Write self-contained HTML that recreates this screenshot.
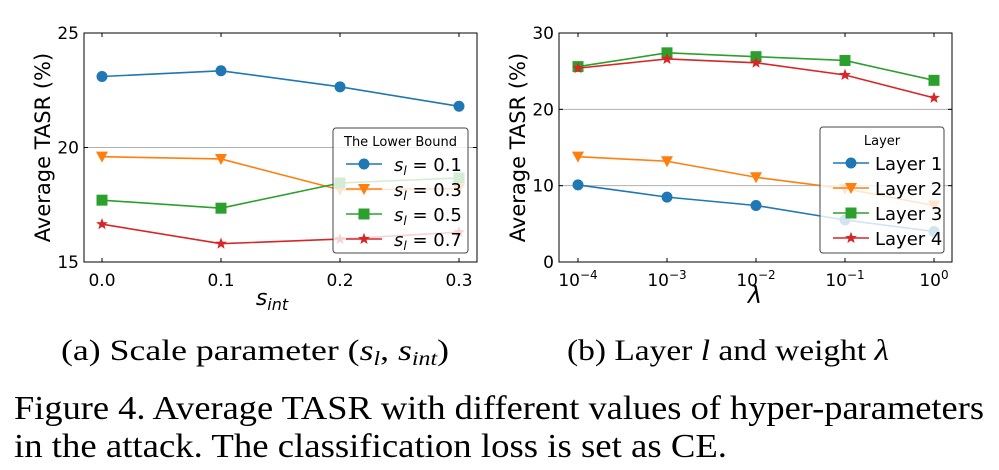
<!DOCTYPE html>
<html><head><meta charset="utf-8"><style>
body{margin:0;background:#fff;width:999px;height:470px;overflow:hidden}
svg{display:block}
.tk{font-family:"DejaVu Sans","Liberation Sans",sans-serif;fill:#000}
.cap{font-family:"Liberation Serif",serif;fill:#000}
</style></head><body>
<svg id="fig" width="999" height="470">
<text class="cap" x="61" y="360" style="font-size:30px" textLength="388" lengthAdjust="spacingAndGlyphs">(a) Scale parameter (<tspan font-style="italic">s<tspan style="font-size:20px" dy="5">l</tspan></tspan><tspan dy="-5">, </tspan><tspan font-style="italic">s<tspan style="font-size:20px" dy="5">int</tspan></tspan><tspan dy="-5">)</tspan></text>
<text class="cap" x="567" y="360" style="font-size:30px" textLength="322" lengthAdjust="spacingAndGlyphs">(b) Layer <tspan font-style="italic">l</tspan> and weight <tspan font-style="italic">λ</tspan></text>
<text class="cap" x="14" y="419" style="font-size:34px" textLength="970" lengthAdjust="spacingAndGlyphs">Figure 4. Average TASR with different values of hyper-parameters</text>
<text class="cap" x="14" y="457" style="font-size:34px" textLength="713" lengthAdjust="spacingAndGlyphs">in the attack. The classification loss is set as CE.</text>
</svg>
<script>
const aCats=["0.0","0.1","0.2","0.3"];
const aS1=[23.1,23.35,22.65,21.8];
const aS3=[19.6,19.5,18.15,18.2];
const aS5=[17.7,17.35,18.45,18.67];
const aS7=[16.65,15.8,16.0,16.3];
const aYTicks=[15,20,25];
const aLegend=["0.1","0.3","0.5","0.7"];
const bCats=["−4","−3","−2","−1","0"];
const bL1=[10.1,8.5,7.4,5.5,4.0];
const bL2=[13.8,13.2,11.1,9.6,7.4];
const bL3=[25.6,27.4,26.9,26.4,23.8];
const bL4=[25.4,26.6,26.1,24.5,21.5];
const bYTicks=[0,10,20,30];
const bLegend=["Layer 1","Layer 2","Layer 3","Layer 4"];
const colors=["#1f77b4","#ff7f0e","#2ca02c","#d62728"];
const markers=["o","v","s","*"];
const NS="http://www.w3.org/2000/svg";
const svg=document.getElementById('fig');
function mk(tag,attrs,parent){const e=document.createElementNS(NS,tag);for(const k in attrs)e.setAttribute(k,attrs[k]);(parent||svg).appendChild(e);return e;}
function marker(g,t,x,y,c){
  let e;
  if(t==="o")e=mk('circle',{cx:x,cy:y,r:5.5,fill:c},g);
  else if(t==="v")e=mk('polygon',{points:`${x-6},${y-5} ${x+6},${y-5} ${x},${y+6}`,fill:c},g);
  else if(t==="s")e=mk('rect',{x:x-5.5,y:y-5.5,width:11,height:11,fill:c},g);
  else{let p=[];for(let i=0;i<10;i++){const r=i%2?2.6:6.2,a=-Math.PI/2+i*Math.PI/5;p.push((x+r*Math.cos(a)).toFixed(1)+","+(y+r*Math.sin(a)).toFixed(1));}
    e=mk('polygon',{points:p.join(" "),fill:c},g);}
  
  
}
function chart(o){
  const {x0,x1,y0,y1,xa,xb,ymin,ymax,cats,series,yticks,grid,prefix}=o;
  const X=i=>xa+(xb-xa)*i/(cats.length-1);
  const Y=v=>y1-(v-ymin)/(ymax-ymin)*(y1-y0);
  grid.forEach(v=>{const l=mk('line',{x1:x0,x2:x1,y1:Y(v),y2:Y(v),stroke:"#b0b0b0","stroke-width":1});
    });
  series.forEach((s,si)=>{
    const g=mk('g',{});
    
    
    mk('polyline',{points:s.map((v,i)=>X(i)+","+Y(v)).join(" "),fill:"none",stroke:colors[si],"stroke-width":1.6},g);
    s.forEach((v,i)=>marker(g,markers[si],X(i),Y(v),colors[si]));
  });
  const fr=mk('rect',{x:x0,y:y0,width:x1-x0,height:y1-y0,fill:"none",stroke:"#000","stroke-width":1});
  
  cats.forEach((c,i)=>{
    mk('line',{x1:X(i),x2:X(i),y1:y1,y2:y1-4,stroke:"#000"});
    mk('line',{x1:X(i),x2:X(i),y1:y0,y2:y0+4,stroke:"#000"});
    const t=mk('text',{x:X(i),y:y1+24,"text-anchor":"middle",class:"tk",style:"font-size:17px"});
    if(o.log){t.textContent="10";const s=mk('tspan',{dy:-7,style:"font-size:12px"},t);s.textContent=c;}
    else t.textContent=c;
    
  });
  yticks.forEach(v=>{
    mk('line',{x1:x0,x2:x0+4,y1:Y(v),y2:Y(v),stroke:"#000"});
    mk('line',{x1:x1,x2:x1-4,y1:Y(v),y2:Y(v),stroke:"#000"});
    const t=mk('text',{x:x0-5,y:Y(v)+6,"text-anchor":"end",class:"tk",style:"font-size:17px"});t.textContent=v;
    
  });
  const yt=mk('text',{x:0,y:0,transform:`translate(${o.ytx},${(y0+y1)/2}) rotate(-90)`,"text-anchor":"middle",class:"tk",style:"font-size:21px"});
  yt.textContent="Average TASR (%)";
  
}
chart({x0:84,x1:477,y0:33,y1:262,xa:102,xb:459,ymin:15,ymax:25,cats:aCats,series:[aS1,aS3,aS5,aS7],yticks:aYTicks,grid:[20],prefix:"chart-a",ytx:50});
chart({x0:559,x1:952,y0:33,y1:262,xa:578,xb:934,ymin:0,ymax:30,cats:bCats,series:[bL1,bL2,bL3,bL4],yticks:bYTicks,grid:[10,20],prefix:"chart-b",ytx:525,log:true});
let t=mk('text',{x:272,y:305,"text-anchor":"middle",class:"tk",style:"font-size:22px;font-style:italic"});
t.textContent="s";let ts=mk('tspan',{style:"font-size:16px",dy:5},t);ts.textContent="int";

t=mk('text',{x:755,y:303,"text-anchor":"middle",class:"tk",style:"font-size:24px;font-style:italic"});t.textContent="λ";

function legend(x,y,w,h,title,labels,prefix,sub){
  const g=mk('g',{});
  
  
  mk('rect',{x:x,y:y,width:w,height:h,rx:3,fill:"rgba(255,255,255,0.8)",stroke:"#444","stroke-width":1},g);
  const tt=mk('text',{x:x+w/2,y:y+18,"text-anchor":"middle",class:"tk",style:"font-size:13px"},g);tt.textContent=title;
  labels.forEach((l,i)=>{
    const yy=y+36+i*25;
    const e=mk('g',{},g);
    
    
    mk('line',{x1:x+13,x2:x+49,y1:yy,y2:yy,stroke:colors[i],"stroke-width":1.6},e);
    marker(e,markers[i],x+31,yy,colors[i]);
    const lt=mk('text',{x:x+(sub?61:55),y:yy+7,class:"tk",style:"font-size:18px"},e);
    if(sub){const a=mk('tspan',{style:"font-style:italic"},lt);a.textContent="s";const b=mk('tspan',{style:"font-style:italic;font-size:12px",dy:4},lt);b.textContent="l";const c=mk('tspan',{dy:-4},lt);c.textContent=" = "+l;}
    else lt.textContent=l;
  });
}
legend(333,128,135,125,"The Lower Bound",aLegend,"chart-a",true);
legend(820,127,124,126,"Layer",bLegend,"chart-b",false);
</script>
</body></html>
